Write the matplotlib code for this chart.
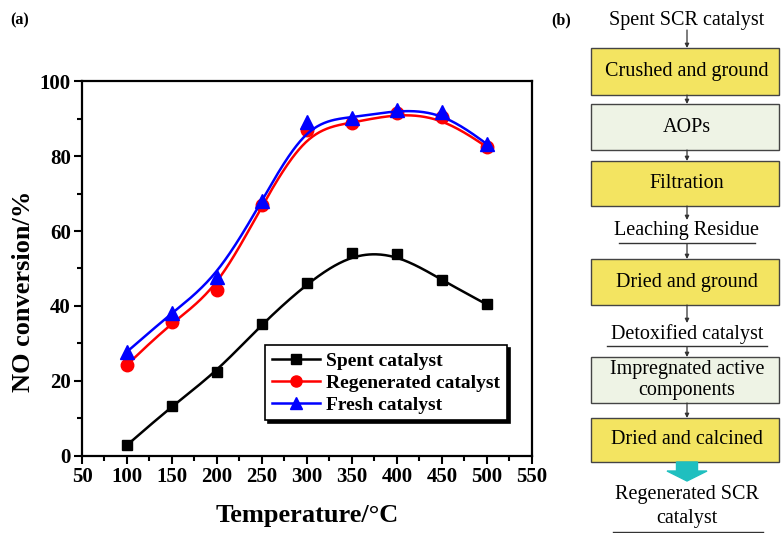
import numpy as np
import matplotlib
matplotlib.use("Agg")
import matplotlib.pyplot as plt
from matplotlib.patches import Rectangle, FancyArrow

plt.rcParams['font.family'] = ['Liberation Serif', 'DejaVu Serif']

temps = [100, 150, 200, 250, 300, 350, 400, 450, 500]
spent = [2.9, 13.3, 22.5, 35.2, 46.1, 54.2, 54.0, 46.9, 40.4]
regen = [24.3, 35.7, 44.3, 66.9, 87.0, 88.8, 91.4, 90.3, 82.4]
fresh = [27.8, 38.2, 47.6, 68.0, 89.2, 90.2, 92.3, 91.8, 83.2]

series_names = ["Spent catalyst", "Regenerated catalyst", "Fresh catalyst"]

steps = ["Crushed and ground", "AOPs", "Filtration", "Leaching Residue",
         "Dried and ground", "Detoxified catalyst",
         "Impregnated active\ncomponents", "Dried and calcined"]
step_kind = ["yellow", "green", "yellow", "text", "yellow", "text", "green", "yellow"]


def bspline(x, y, n=40):
    # clamped uniform cubic B-spline with the points as control points
    # (the "B-spline" line style of the original plotting program)
    px = np.r_[x[0], x[0], x, x[-1], x[-1]].astype(float)
    py = np.r_[y[0], y[0], y, y[-1], y[-1]].astype(float)
    t = np.linspace(0, 1, n)
    b0 = (1 - t) ** 3 / 6
    b1 = (3 * t ** 3 - 6 * t ** 2 + 4) / 6
    b2 = (-3 * t ** 3 + 3 * t ** 2 + 3 * t + 1) / 6
    b3 = t ** 3 / 6
    xs, ys = [], []
    for i in range(len(px) - 3):
        xs.append(b0 * px[i] + b1 * px[i + 1] + b2 * px[i + 2] + b3 * px[i + 3])
        ys.append(b0 * py[i] + b1 * py[i + 1] + b2 * py[i + 2] + b3 * py[i + 3])
    return np.concatenate(xs), np.concatenate(ys)


fig = plt.figure(figsize=(7.81, 5.33), dpi=100)
ax = fig.add_axes([0.105, 0.1445, 0.576, 0.7035])

styles = [("black", "s", 7.5), ("red", "o", 9), ("blue", "^", 9.5)]
for vals, name, (c, m, ms) in zip([spent, regen, fresh], series_names, styles):
    xs, ys = bspline(temps, vals)
    ax.plot(xs, ys, color=c, lw=1.8)
    ax.plot(temps, vals, ls='none', marker=m, color=c, ms=ms)
    ax.plot([], [], color=c, lw=1.8, marker=m, ms=ms - 1, label=name)

ax.set_xlim(50, 550)
ax.set_ylim(0, 100)
ax.set_xticks(np.arange(50, 551, 50))
ax.set_yticks(np.arange(0, 101, 20))
ax.set_xticks(np.arange(75, 550, 50), minor=True)
ax.set_yticks(np.arange(10, 100, 20), minor=True)
ax.tick_params(which='major', direction='out', length=6, width=1.5, labelsize=15, pad=2)
ax.tick_params(which='minor', direction='out', length=3.5, width=1.5)
for lab in ax.get_xticklabels() + ax.get_yticklabels():
    lab.set_fontweight('bold')
for sp in ax.spines.values():
    sp.set_linewidth(1.6)
ax.set_xlabel("Temperature/\u00b0C", fontsize=19, fontweight='bold', labelpad=12)
ax.set_ylabel("NO conversion/%", fontsize=19, fontweight='bold')
ax.yaxis.set_label_coords(-0.105, 0.44)

leg = ax.legend(loc='lower right', bbox_to_anchor=(0.945, 0.095), frameon=True,
                fancybox=False, shadow={'color': 'black', 'alpha': 1},
                prop={'weight': 'bold', 'size': 14}, handlelength=2.5,
                handletextpad=0.3, borderpad=0.35, labelspacing=0.22,
                borderaxespad=0)
leg.get_frame().set_edgecolor('black')
leg.get_frame().set_linewidth(1.2)

fig.text(0.013, 0.962, "(a)", fontsize=11.5, fontweight='bold', ha='left', va='center')
fig.text(0.706, 0.962, "(b)", fontsize=11.5, fontweight='bold', ha='left', va='center')

# flowchart (b) drawn in pixel coordinates
fc = fig.add_axes([0, 0, 1, 1])
fc.set_xlim(0, 781)
fc.set_ylim(533, 0)
fc.axis('off')

x0, x1 = 591, 779
cx = (x0 + x1) / 2 + 2
tops = [48, 104, 161, 231, 259, 334, 357, 418]
bots = [95, 150, 206, 231, 305, 334, 403, 462]
colors = {"yellow": "#f3e461", "green": "#eef3e5"}

fc.text(cx, 20, "Spent SCR catalyst", fontsize=14.5, ha='center', va='center')
prev_bottom = 30
for s, kind, t, b in zip(steps, step_kind, tops, bots):
    if kind == "text":
        fc.text(cx, t, s, fontsize=14.5, ha='center', va='center')
        half = 68 if s.startswith("Leaching") else 80
        fc.plot([cx - half, cx + half], [t + 12, t + 12], color='#333333', lw=1)
        top_edge = t - 11
        bottom_edge = t + 13
    else:
        fc.add_patch(Rectangle((x0, t), x1 - x0, b - t, facecolor=colors[kind],
                               edgecolor='#444444', lw=1))
        fc.text(cx, (t + b) / 2, s, fontsize=14.5, ha='center', va='center',
                linespacing=1.1)
        top_edge = t
        bottom_edge = b
    fc.annotate("", xy=(cx, top_edge), xytext=(cx, prev_bottom),
                arrowprops=dict(arrowstyle='-|>', color='#333333', lw=0.9,
                                mutation_scale=6, shrinkA=0, shrinkB=0))
    prev_bottom = bottom_edge

fc.add_patch(FancyArrow(cx, 462, 0, 19, width=21, head_width=40, head_length=10,
                        length_includes_head=True, color='#1fbfbf'))
fc.text(cx, 494, "Regenerated SCR", fontsize=14.5, ha='center', va='center')
fc.text(cx, 518, "catalyst", fontsize=14.5, ha='center', va='center')
fc.plot([613, 763], [532, 532], color='#333333', lw=1)

fig.savefig("out.png", dpi=100)
